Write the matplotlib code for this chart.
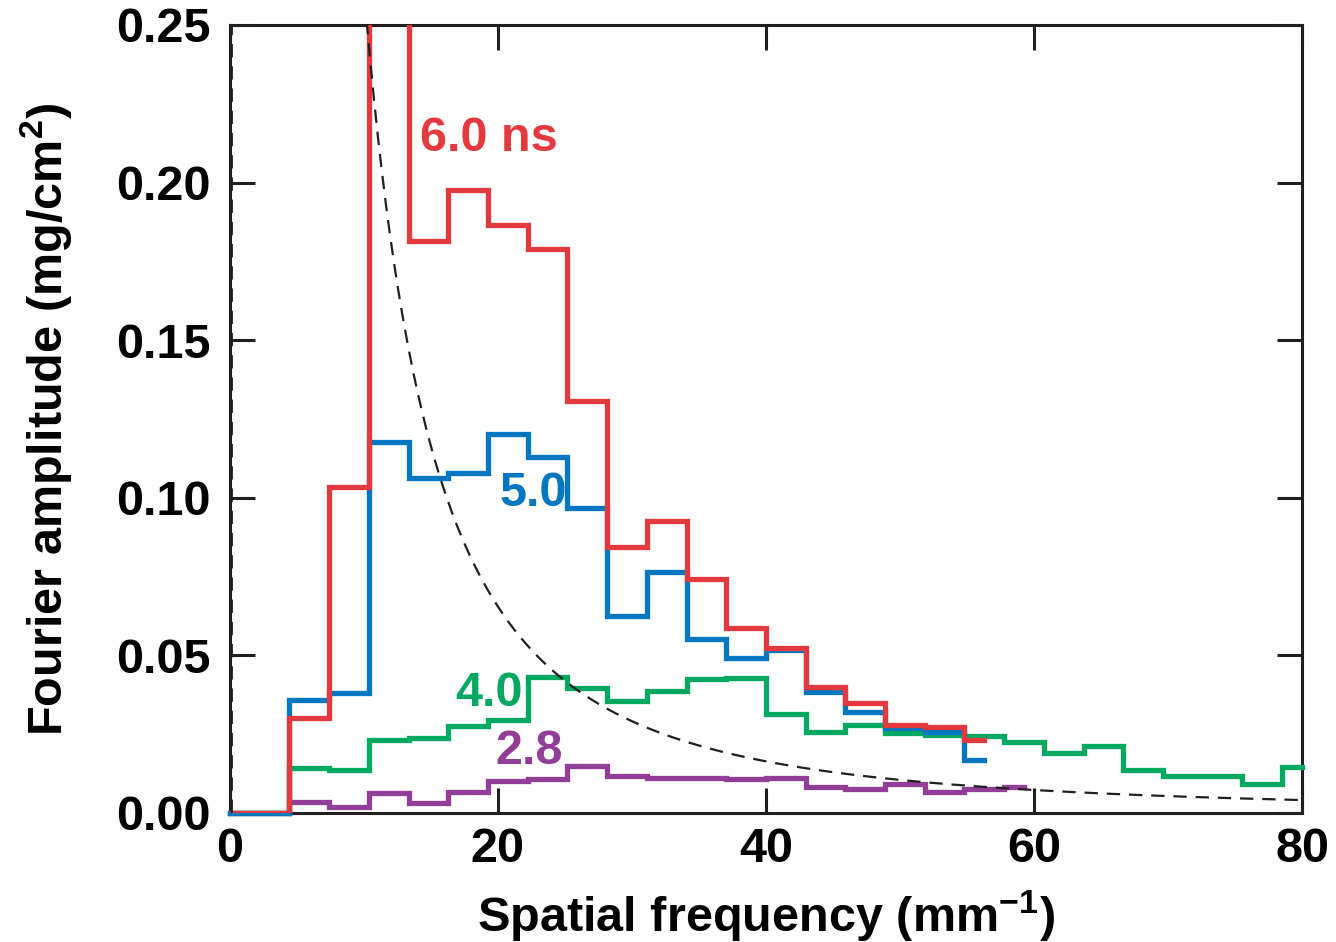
import numpy as np
import matplotlib.pyplot as plt

plt.rcParams['font.family'] = ['Liberation Sans', 'DejaVu Sans']
plt.rcParams['font.weight'] = 'bold'
plt.rcParams['mathtext.fontset'] = 'custom'
plt.rcParams['mathtext.rm'] = 'Liberation Sans:bold'
plt.rcParams['mathtext.bf'] = 'Liberation Sans:bold'
plt.rcParams['mathtext.default'] = 'bf'

# Fourier amplitude spectra (mg/cm^2), bins spaced 80/27 mm^-1 starting at f = 0
df = 80.0 / 27
amp_60 = [0, 0, 0.030, 0.1034, 0.30, 0.1815, 0.1977, 0.1866, 0.179, 0.1307,
          0.0844, 0.0926, 0.0742, 0.0587, 0.0523, 0.040, 0.0349, 0.0279,
          0.0273, 0.023]
amp_50 = [0, 0, 0.0359, 0.038, 0.1177, 0.1063, 0.1078, 0.1202, 0.113, 0.0968,
          0.0625, 0.0765, 0.0552, 0.0492, 0.0517, 0.0384, 0.032, 0.027,
          0.0257, 0.0168]
amp_40 = [0, 0, 0.0143, 0.0137, 0.0232, 0.0238, 0.0276, 0.0295, 0.0431,
          0.0397, 0.0355, 0.0387, 0.0425, 0.0428, 0.0314, 0.0257, 0.0279,
          0.0254, 0.0247, 0.0244, 0.0225, 0.019, 0.0213, 0.0137, 0.0117,
          0.0117, 0.0092, 0.0146]
amp_28 = [0, 0, 0.0035, 0.0019, 0.0063, 0.0032, 0.0067, 0.0101, 0.0107,
          0.0149, 0.0116, 0.011, 0.011, 0.0107, 0.011, 0.0083, 0.0076,
          0.0092, 0.0067, 0.0076, 0.0083]

# reference ~ A / f^2 curve
A_ref = 26.2

labels = ['6.0 ns', '5.0', '4.0', '2.8']
label_pos = [(14.2, 0.214), (20.1, 0.1015), (16.8, 0.038), (19.8, 0.0194)]
colors = ['#E4393F', '#0077C0', '#00A862', '#923E98']
series = [amp_60, amp_50, amp_40, amp_28]

fig = plt.figure(figsize=(13.36, 9.42), dpi=100)
ax = fig.add_axes([0.172, 0.137, 0.8026, 0.8365])

# draw from lowest to highest so red sits on top
for i, (amp, c) in enumerate(zip(series[::-1], colors[::-1])):
    f = np.arange(len(amp)) * df
    ax.step(f, amp, where='mid', color=c, lw=3.8, solid_joinstyle='miter',
            clip_on=False, zorder=3 + i * 0.1)
# keep the tall 6.0 ns bin inside the frame
ax.lines[-1].set_clip_on(True)

f_ref = np.linspace(0.15, 80, 800)
a_ref = A_ref / f_ref ** 2
a_ref[0] = 0
ax.plot(f_ref, a_ref, ls=(0, (6, 4)), color='#231F20', lw=1.6, zorder=4)

for txt, (x, y), c in zip(labels, label_pos, colors):
    ax.text(x, y, txt, color=c, fontsize=35, fontweight='bold',
            ha='left', va='center')

ax.set_xlim(0, 80)
ax.set_ylim(0, 0.25)
ax.set_xticks([0, 20, 40, 60, 80])
ax.set_yticks([0, 0.05, 0.10, 0.15, 0.20, 0.25])
ax.set_yticklabels(['0.00', '0.05', '0.10', '0.15', '0.20', '0.25'])
ax.tick_params(direction='in', length=18, width=2.2, color='#231F20',
               labelsize=35, top=True, right=True)
ax.tick_params(axis='x', pad=10)
ax.tick_params(axis='y', pad=14)
for s in ax.spines.values():
    s.set_linewidth(2.2)
    s.set_color('#231F20')

ax.set_xlabel('Spatial frequency (mm$^{\u22121}$)', fontsize=35,
              fontweight='bold', labelpad=12)
ax.set_ylabel('Fourier amplitude (mg/cm$^2$)', fontsize=35,
              fontweight='bold', labelpad=30)

fig.savefig('out.png', dpi=100)
